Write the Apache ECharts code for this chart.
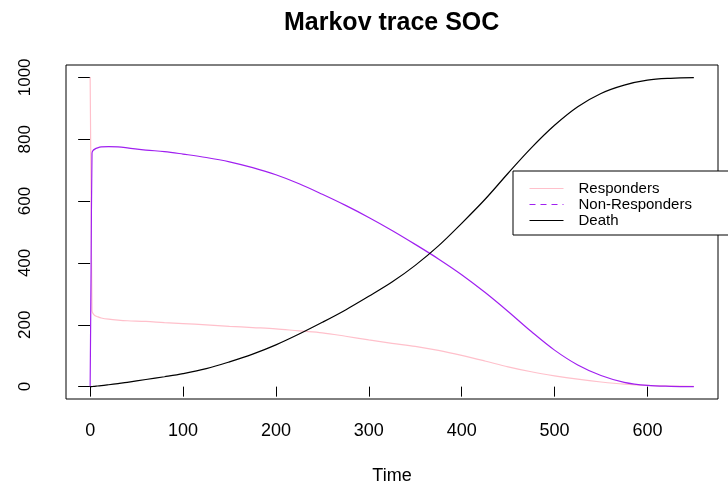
<!DOCTYPE html>
<html>
<head>
<meta charset="utf-8">
<script src="https://cdn.jsdelivr.net/npm/echarts@6/dist/echarts.min.js"></script>
<style>
html,body{margin:0;padding:0;background:#fff;}
#chart{width:728px;height:488px;}
</style>
</head>
<body>
<div id="chart"></div>
<script>
// ---- data ----
const times = [0,1,2,3,5,8,12,20,30,40,60,80,100,125,150,175,200,225,250,275,300,325,350,375,400,425,450,475,500,525,550,575,600,625,650];
const responders = [1000,622,245,237,230,226,222,218,215,213,211,207,204,200,195,191,187,180,174,163,151,140,130,117,101,83,64,48,35,24,15,8,4,2,1];
const nonResponders = [0,378,755,763,768,772,775,776,775,772,765,760,752,741,727,708,685,656,622,586,547,505,460,413,362,305,243,178,118,70,36,14,4,1,0];
const death = [0,0,0.2,0.5,1,2,3,6,10,14,23,32,42,58,80,105,135,170,208,248,292,338,392,455,528,605,690,772,845,905,948,975,991,997,999];
const xTicks = [0,100,200,300,400,500,600];
const yTicks = [0,200,400,600,800,1000];
const seriesNames = ['Responders','Non-Responders','Death'];
const titleText = 'Markov trace SOC';
const xName = 'Time';

const FONT = '"Liberation Sans", Arial, Helvetica, sans-serif';
const pair = (vals) => times.map((t, i) => [t, vals[i]]);

const chart = echarts.init(document.getElementById('chart'), null, {renderer: 'canvas'});
chart.setOption({
  animation: false,
  backgroundColor: '#ffffff',
  title: {
    text: titleText,
    left: 279,
    top: 6,
    textStyle: {fontFamily: FONT, fontWeight: 'bold', fontSize: 25, color: '#000'}
  },
  grid: {
    left: 66, right: 10, top: 65, bottom: 89,
    show: true, borderColor: '#000', borderWidth: 1, backgroundColor: 'transparent',
    containLabel: false, outerBoundsMode: 'none'
  },
  legend: {
    orient: 'vertical',
    left: 513, top: 171,
    padding: [10, 60, 7, 16],
    backgroundColor: '#fff',
    borderColor: '#000', borderWidth: 1, borderRadius: 0,
    itemWidth: 34, itemHeight: 16, itemGap: 1,
    itemStyle: {opacity: 0},
    lineStyle: {width: 1},
    textStyle: {fontFamily: FONT, fontSize: 15, color: '#000', padding: [0, 0, 0, 10]},
    data: [
      {name: seriesNames[0]},
      {name: seriesNames[1], lineStyle: {type: [6, 5], width: 1}},
      {name: seriesNames[2]}
    ],
    z: 10
  },
  xAxis: {
    type: 'value', min: -26, max: 676,
    name: xName, nameLocation: 'middle', nameGap: 68,
    nameTextStyle: {fontFamily: FONT, fontSize: 18, color: '#000'},
    axisLine: {show: false},
    axisTick: {show: true, inside: false, length: 10, customValues: xTicks, lineStyle: {color: '#000', width: 1}},
    axisLabel: {show: true, customValues: xTicks, formatter: v => String(v), fontFamily: FONT, fontSize: 18, color: '#000', margin: 23},
    splitLine: {show: false}
  },
  yAxis: {
    type: 'value', min: -40, max: 1040,
    axisLine: {show: false},
    axisTick: {show: true, inside: false, length: 12, customValues: yTicks, lineStyle: {color: '#000', width: 1}},
    axisLabel: {show: true, customValues: yTicks, formatter: v => String(v), rotate: 90, fontFamily: FONT, fontSize: 17, color: '#000', margin: 32},
    splitLine: {show: false}
  },
  series: [
    {name: seriesNames[0], type: 'line', data: pair(responders), symbol: 'none', smooth: 0.35,
     lineStyle: {color: '#FFC0CB', width: 1.2}, itemStyle: {color: '#FFC0CB'}, z: 2},
    {name: seriesNames[1], type: 'line', data: pair(nonResponders), symbol: 'none', smooth: 0.35,
     lineStyle: {color: '#A020F0', width: 1.2}, itemStyle: {color: '#A020F0'}, z: 3},
    {name: seriesNames[2], type: 'line', data: pair(death), symbol: 'none', smooth: 0.35,
     lineStyle: {color: '#000', width: 1.2}, itemStyle: {color: '#000'}, z: 4}
  ]
});
</script>
</body>
</html>
